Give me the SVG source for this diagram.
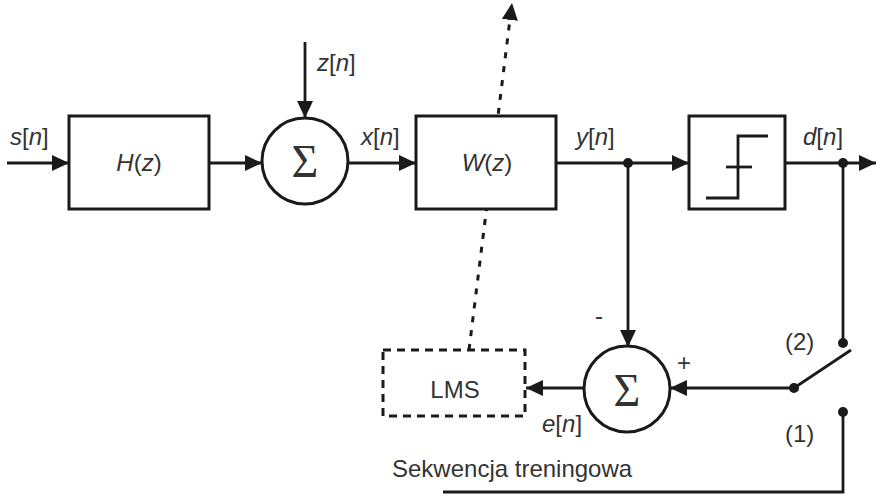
<svg xmlns="http://www.w3.org/2000/svg" width="876" height="498" viewBox="0 0 876 498">
<defs>
<style>
.ln{stroke:#1a1a1a;stroke-width:2.8;fill:none}
.box{stroke:#1a1a1a;stroke-width:3;fill:#fff}
.dash{stroke:#1a1a1a;stroke-width:3;fill:none;stroke-dasharray:8 6}
.dot{stroke:#1a1a1a;stroke-width:3;fill:none;stroke-dasharray:6 8}
.t{font-family:"Liberation Sans",Arial,sans-serif;font-size:24px;fill:#333}
.i{font-style:italic}
.sig{font-family:"Liberation Serif","Times New Roman",serif;font-size:46px;fill:#333;text-anchor:middle}
.jn{fill:#1a1a1a}
</style>
<marker id="ah" markerUnits="userSpaceOnUse" markerWidth="18" markerHeight="17" refX="17" refY="8" orient="auto">
<path d="M0,0 L17,8 L0,16 z" fill="#1a1a1a"/>
</marker>
</defs>
<rect width="876" height="498" fill="#fff"/>

<g id="connectors">
<line class="ln" x1="7" y1="163" x2="69" y2="163" marker-end="url(#ah)"/>
<line class="ln" x1="209" y1="163" x2="262" y2="163" marker-end="url(#ah)"/>
<line class="ln" x1="305" y1="42" x2="305" y2="118" marker-end="url(#ah)"/>
<line class="ln" x1="348" y1="163" x2="416" y2="163" marker-end="url(#ah)"/>
<line class="ln" x1="556" y1="163" x2="689" y2="163" marker-end="url(#ah)"/>
<line class="ln" x1="628" y1="163" x2="628" y2="347" marker-end="url(#ah)"/>
<line class="ln" x1="785" y1="163" x2="876" y2="163" marker-end="url(#ah)"/>
<line class="ln" x1="843" y1="163" x2="843" y2="343"/>
<line class="ln" x1="794" y1="388" x2="851" y2="350"/>
<line class="ln" x1="794" y1="388" x2="670" y2="388" marker-end="url(#ah)"/>
<line class="ln" x1="584" y1="388" x2="526" y2="388" marker-end="url(#ah)"/>
<polyline class="ln" points="843,412 843,492 443,492"/>
<line class="dot" x1="469" y1="350" x2="512" y2="3" marker-end="url(#ah)"/>
<circle class="jn" cx="628" cy="163" r="5"/>
<circle class="jn" cx="843" cy="163" r="5"/>
<circle class="jn" cx="843" cy="343" r="5"/>
<circle class="jn" cx="794" cy="388" r="5"/>
<circle class="jn" cx="843" cy="412" r="5"/>
</g>

<g id="H">
<rect class="box" x="69" y="116" width="140" height="93"/>
<text class="t" x="139" y="171" text-anchor="middle"><tspan class="i">H</tspan>(<tspan class="i">z</tspan>)</text>
</g>

<g id="sum1">
<circle class="box" cx="305" cy="161" r="43"/>
<text class="sig" x="305" y="177">Σ</text>
</g>

<g id="W">
<rect class="box" x="416" y="116" width="140" height="93"/>
<text class="t" x="487" y="171" text-anchor="middle"><tspan class="i">W</tspan>(<tspan class="i">z</tspan>)</text>
</g>

<g id="threshold">
<rect class="box" x="689" y="116" width="96" height="93"/>
<polyline class="ln" points="706,198 738,198 738,136 768,136"/>
<line class="ln" x1="726" y1="167" x2="752" y2="167"/>
</g>

<g id="sum2">
<circle class="box" cx="627" cy="389" r="43"/>
<text class="sig" x="627" y="406">Σ</text>
</g>

<g id="LMS">
<rect class="dash" x="383" y="350" width="142" height="66" fill="#fff"/>
<text class="t" x="455" y="398" text-anchor="middle">LMS</text>
</g>

<g id="labels">
<text class="t" x="10" y="145"><tspan class="i">s</tspan>[<tspan class="i">n</tspan>]</text>
<text class="t" x="317" y="71"><tspan class="i">z</tspan>[<tspan class="i">n</tspan>]</text>
<text class="t" x="361" y="145"><tspan class="i">x</tspan>[<tspan class="i">n</tspan>]</text>
<text class="t" x="576" y="145"><tspan class="i">y</tspan>[<tspan class="i">n</tspan>]</text>
<text class="t" x="803" y="145"><tspan class="i">d</tspan>[<tspan class="i">n</tspan>]</text>
<text class="t" x="542" y="432"><tspan class="i">e</tspan>[<tspan class="i">n</tspan>]</text>
<text class="t" x="595" y="324">-</text>
<text class="t" x="677" y="371">+</text>
<text class="t" x="785" y="350">(2)</text>
<text class="t" x="785" y="442">(1)</text>
<text class="t" x="392" y="477">Sekwencja treningowa</text>
</g>
</svg>
